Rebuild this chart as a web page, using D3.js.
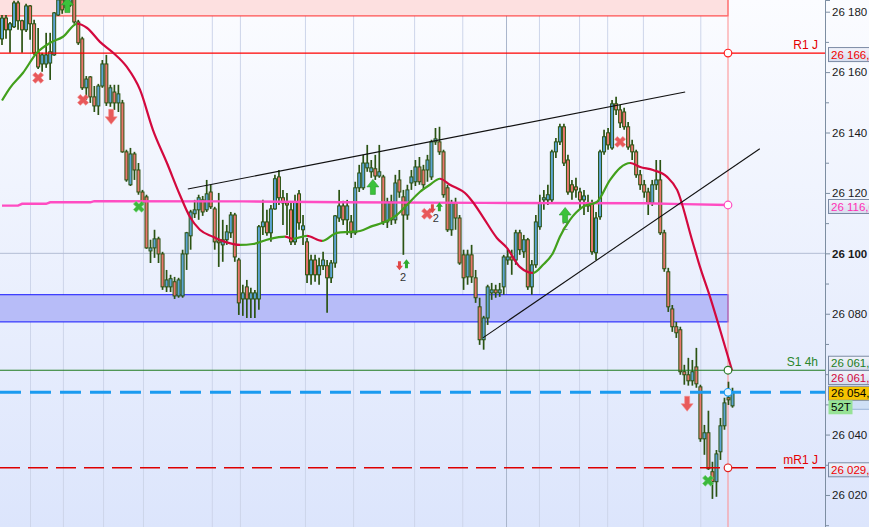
<!DOCTYPE html>
<html>
<head>
<meta charset="utf-8">
<script src="https://cdn.jsdelivr.net/npm/d3@7"></script>
<style>
  body { margin: 0; background: #fff; }
  svg { display: block; font-family: "Liberation Sans", Arial, sans-serif; }
</style>
</head>
<body>
<svg id="chart" width="869" height="527"></svg>
<script>
// candles, one per bar
const open = [
  26171.0, 26177.9, 26174.0, 26175.0, 26182.9, 26177.0, 26174.0, 26181.9, 26176.0, 26166.4,
  26162.7, 26162.7, 26163.0, 26165.7, 26178.9, 26183.9, 26181.3, 26182.2, 26184.6, 26176.6,
  26171.0, 26154.8, 26158.4, 26151.8, 26148.8, 26155.4, 26162.7, 26149.8, 26153.4, 26149.8,
  26149.8, 26133.6, 26122.7, 26132.9, 26127.6, 26120.3, 26118.7, 26100.8, 26101.8, 26104.8,
  26099.8, 26088.9, 26088.9, 26090.6, 26085.9, 26085.9, 26099.8, 26105.8, 26113.1, 26114.4,
  26117.7, 26114.4, 26120.3, 26114.7, 26104.1, 26102.8, 26104.5, 26106.8, 26112.7, 26097.8,
  26084.9, 26088.9, 26084.9, 26084.9, 26084.9, 26108.8, 26110.4, 26106.8, 26114.7, 26125.3,
  26118.4, 26116.7, 26114.4, 26103.8, 26119.7, 26107.8, 26103.8, 26092.9, 26097.8, 26092.9,
  26095.9, 26095.9, 26091.9, 26096.8, 26111.7, 26115.7, 26111.1, 26110.4, 26106.8, 26121.7,
  26121.7, 26128.3, 26127.0, 26128.0, 26125.6, 26125.3, 26110.4, 26117.0, 26111.1, 26124.3,
  26118.7, 26112.7, 26123.3, 26123.7, 26128.6, 26127.6, 26127.6, 26125.3, 26136.9, 26136.9,
  26133.6, 26121.7, 26107.8, 26116.7, 26111.7, 26099.5, 26092.2, 26099.5, 26091.9, 26082.3,
  26071.4, 26078.6, 26086.9, 26087.9, 26086.9, 26088.9, 26097.8, 26098.8, 26097.8, 26106.8,
  26100.5, 26104.5, 26088.9, 26096.2, 26108.8, 26117.7, 26117.7, 26117.7, 26133.6, 26136.9,
  26141.9, 26130.9, 26122.7, 26122.0, 26120.3, 26117.7, 26115.7, 26116.7, 26100.2, 26112.1,
  26133.6, 26139.9, 26134.9, 26149.5, 26147.5, 26146.8, 26141.9, 26135.9, 26133.6, 26126.0,
  26122.7, 26120.3, 26116.7, 26122.7, 26124.3, 26106.8, 26093.9, 26081.6, 26075.7, 26074.7,
  26060.8, 26059.8, 26057.8, 26062.4, 26055.8, 26038.6, 26040.6, 26027.7, 26024.4, 26034.3,
  26042.9, 26052.2, 26049.5
];
const high = [
  26178.9, 26178.9, 26176.6, 26183.6, 26183.6, 26177.3, 26182.6, 26182.2, 26177.3, 26174.6,
  26166.4, 26173.0, 26173.0, 26179.9, 26184.6, 26184.9, 26185.6, 26185.9, 26185.6, 26177.3,
  26171.7, 26158.7, 26158.7, 26155.4, 26156.1, 26164.0, 26165.7, 26155.8, 26155.8, 26155.8,
  26150.8, 26134.3, 26134.9, 26133.6, 26129.9, 26121.0, 26119.4, 26104.5, 26107.8, 26105.5,
  26100.5, 26094.5, 26092.9, 26092.2, 26091.9, 26101.2, 26107.1, 26114.4, 26117.7, 26119.4,
  26119.0, 26124.3, 26122.7, 26115.4, 26120.0, 26111.1, 26109.4, 26113.7, 26113.4, 26098.5,
  26089.6, 26091.2, 26088.6, 26087.9, 26109.4, 26117.7, 26114.4, 26116.0, 26126.0, 26127.6,
  26121.0, 26120.0, 26117.0, 26119.4, 26121.0, 26112.7, 26105.1, 26099.5, 26099.5, 26098.5,
  26100.5, 26097.8, 26097.8, 26112.7, 26121.0, 26117.4, 26117.7, 26112.7, 26123.7, 26129.3,
  26132.6, 26135.9, 26130.9, 26132.6, 26135.9, 26126.0, 26118.4, 26119.4, 26126.0, 26127.6,
  26121.0, 26122.7, 26127.6, 26130.9, 26131.9, 26129.3, 26132.6, 26137.6, 26141.5, 26141.9,
  26134.3, 26122.7, 26117.7, 26118.4, 26112.7, 26101.2, 26101.2, 26102.8, 26094.5, 26085.3,
  26079.3, 26089.6, 26090.2, 26089.6, 26090.2, 26099.5, 26101.2, 26101.2, 26107.8, 26107.8,
  26106.1, 26105.1, 26097.8, 26112.7, 26119.4, 26121.0, 26122.7, 26134.3, 26138.2, 26142.9,
  26142.9, 26132.6, 26124.3, 26125.0, 26121.7, 26121.0, 26119.4, 26117.7, 26113.7, 26134.3,
  26140.9, 26141.5, 26150.8, 26151.8, 26149.1, 26148.2, 26143.5, 26137.6, 26134.3, 26127.6,
  26124.3, 26121.7, 26124.3, 26130.9, 26130.9, 26107.8, 26095.2, 26082.9, 26077.3, 26075.7,
  26063.1, 26065.4, 26064.7, 26068.7, 26056.5, 26043.2, 26047.9, 26031.0, 26034.9, 26045.5,
  26052.2, 26057.5, 26055.5
];
const low = [
  26169.0, 26171.0, 26166.4, 26174.6, 26174.0, 26166.4, 26173.3, 26170.7, 26165.7, 26161.0,
  26160.1, 26161.4, 26157.4, 26165.4, 26178.6, 26179.3, 26180.6, 26181.6, 26176.0, 26169.0,
  26154.1, 26150.8, 26149.8, 26146.8, 26145.8, 26154.8, 26148.8, 26148.5, 26147.5, 26146.8,
  26133.3, 26123.7, 26122.3, 26124.3, 26119.4, 26116.0, 26101.5, 26096.8, 26098.5, 26096.8,
  26087.9, 26087.2, 26087.2, 26084.9, 26085.3, 26085.3, 26094.5, 26101.2, 26111.7, 26111.1,
  26112.4, 26113.7, 26114.7, 26101.2, 26095.5, 26097.2, 26102.8, 26105.1, 26097.2, 26079.6,
  26079.3, 26078.6, 26078.6, 26078.6, 26081.3, 26106.1, 26105.8, 26103.8, 26114.4, 26116.0,
  26109.4, 26106.1, 26102.8, 26102.8, 26107.8, 26102.8, 26090.2, 26089.6, 26090.6, 26089.6,
  26094.5, 26080.3, 26090.2, 26095.2, 26110.4, 26109.4, 26106.1, 26105.1, 26106.1, 26120.3,
  26121.0, 26127.0, 26125.0, 26124.3, 26125.0, 26109.4, 26108.4, 26109.4, 26109.8, 26118.4,
  26099.5, 26111.1, 26121.0, 26122.3, 26122.7, 26121.0, 26123.7, 26124.3, 26135.9, 26132.6,
  26118.4, 26107.1, 26105.8, 26107.8, 26096.2, 26087.9, 26089.6, 26090.2, 26083.6, 26069.7,
  26068.1, 26076.3, 26084.6, 26085.3, 26085.6, 26086.3, 26096.2, 26092.9, 26096.2, 26099.5,
  26098.5, 26087.9, 26086.3, 26095.2, 26107.8, 26114.4, 26116.0, 26116.7, 26131.6, 26135.9,
  26128.9, 26119.4, 26117.7, 26118.4, 26114.4, 26112.7, 26113.7, 26099.5, 26097.8, 26111.1,
  26132.6, 26134.3, 26134.3, 26145.8, 26141.5, 26140.9, 26134.3, 26130.9, 26125.0, 26121.0,
  26118.4, 26112.7, 26115.7, 26121.0, 26106.1, 26093.9, 26080.6, 26074.0, 26072.0, 26059.8,
  26056.5, 26056.2, 26056.2, 26055.5, 26037.6, 26033.3, 26028.3, 26018.7, 26019.4, 26031.6,
  26041.6, 26049.8, 26048.9
];
const close = [
  26177.9, 26174.0, 26176.0, 26182.9, 26177.0, 26174.0, 26181.9, 26176.0, 26166.4, 26161.7,
  26165.7, 26165.7, 26166.7, 26179.6, 26183.9, 26180.6, 26184.9, 26185.2, 26176.6, 26169.7,
  26154.8, 26157.7, 26151.8, 26148.8, 26155.4, 26162.7, 26149.8, 26154.8, 26149.8, 26152.8,
  26133.6, 26124.3, 26132.9, 26127.6, 26120.3, 26117.0, 26101.8, 26101.8, 26104.8, 26099.8,
  26088.9, 26091.2, 26091.6, 26085.9, 26091.2, 26099.8, 26106.8, 26113.7, 26114.4, 26118.4,
  26113.7, 26119.7, 26115.4, 26103.8, 26103.5, 26104.5, 26107.1, 26112.7, 26098.8, 26083.6,
  26086.9, 26084.9, 26086.9, 26086.9, 26108.8, 26110.4, 26106.8, 26114.7, 26124.7, 26118.4,
  26116.7, 26116.0, 26103.8, 26117.0, 26110.1, 26109.1, 26092.9, 26097.8, 26092.9, 26095.9,
  26097.8, 26091.9, 26096.8, 26112.4, 26115.7, 26111.1, 26115.7, 26106.8, 26121.7, 26126.6,
  26129.9, 26129.9, 26128.3, 26125.6, 26127.0, 26110.4, 26117.0, 26111.1, 26123.3, 26120.3,
  26112.7, 26121.0, 26125.3, 26128.6, 26123.7, 26122.7, 26130.9, 26136.9, 26137.9, 26133.6,
  26119.4, 26107.8, 26116.7, 26111.7, 26096.8, 26091.9, 26099.5, 26092.2, 26085.3, 26071.4,
  26078.6, 26088.9, 26087.9, 26086.9, 26087.9, 26098.8, 26098.8, 26097.8, 26106.8, 26101.2,
  26104.5, 26088.9, 26096.2, 26110.4, 26116.7, 26118.4, 26119.4, 26133.6, 26136.9, 26141.9,
  26129.9, 26120.3, 26120.3, 26121.0, 26117.7, 26119.0, 26116.7, 26100.5, 26111.7, 26133.6,
  26138.6, 26135.9, 26149.5, 26147.5, 26143.2, 26141.9, 26135.2, 26133.6, 26126.0, 26122.7,
  26120.3, 26116.7, 26122.7, 26124.3, 26106.8, 26094.9, 26082.3, 26075.7, 26073.7, 26060.8,
  26059.8, 26057.8, 26060.8, 26056.8, 26038.6, 26040.6, 26028.7, 26024.4, 26033.6, 26042.9,
  26050.5, 26051.5, 26054.0
];

// moving average (bar index, value)
const maIdx = [0, 2, 5.2, 8.7, 12, 15.2, 18.7, 21.2, 24.4, 27.7, 31.1, 34.4, 37.6, 41.1, 44.3, 46.8,
  49.3, 52.6, 55.6, 59.3, 62.5, 66.8, 70.5, 72.5, 76, 79.7, 83.5, 86.7, 89.2, 92.4, 94.9, 98.4,
  100.9, 104.1, 106.6, 109.1, 111.6, 115.8, 117.3, 119.8, 123.3, 125.8, 129, 132.3, 134.8, 137.3,
  139, 141.5, 144.7, 148.2, 151.5, 154, 156.5, 159, 162.2, 165.7, 168.2, 171.9, 173.9, 176.4,
  178.9, 181.9];
const maVal = [26150.6, 26154.8, 26159.7, 26166.4, 26169.7, 26171.7, 26176.0, 26174.6, 26170.0,
  26166.4, 26161.7, 26154.1, 26140.9, 26129.9, 26119.4, 26112.1, 26107.8, 26105.5, 26103.8,
  26102.8, 26103.1, 26104.8, 26105.5, 26104.8, 26105.8, 26104.1, 26106.8, 26107.1, 26107.4,
  26109.1, 26110.1, 26112.7, 26116.0, 26120.3, 26122.7, 26124.7, 26122.7, 26119.4, 26117.0,
  26112.1, 26105.1, 26101.8, 26095.5, 26093.5, 26096.2, 26100.2, 26105.5, 26111.1, 26115.4,
  26117.0, 26124.3, 26128.3, 26129.9, 26128.6, 26127.6, 26125.3, 26121.0, 26104.5, 26095.5,
  26085.6, 26074.7, 26061.2];

// long average (magenta)
const magIdx = [0, 4, 5, 11, 12, 22, 23, 60, 85, 120, 160, 170, 180.9];
const magVal = [26115.8, 26115.8, 26116.4, 26116.4, 26116.9, 26116.9, 26117.3, 26117.2, 26116.9,
  26116.7, 26116.6, 26116.3, 26116.0];

// levels and zones
const topZone = [26178.6, 26195];
const blueZone = [26077.3, 26086.3];
const levelR1 = 26166.3, levelS1 = 26061.3, levelMR1 = 26029.0, lastPrice = 26054.0;

// trend lines: [start idx, start value, end idx, end value]
const trendLines = [
  [46.3, 26121.3, 170.2, 26153.4],
  [119.8, 26072.0, 188.8, 26134.6]
];

// signal markers (bar index, price)
const crossRed = [[9.0, 26158.1], [20.2, 26150.8], [105.9, 26113.1], [154.0, 26136.9]];
const crossGreen = [[34.1, 26115.4], [175.9, 26024.7]];
const arrowUp = [[16.3, 26182.2], [92.4, 26122.0], [140.3, 26112.7]];
const arrowDown = [[27.2, 26145.2], [170.7, 26050.2]];
const smallPairs = [[99.9, 26096.2], [108.1, 26115.1]];
const countLabels = [[99.9, 26092.2, "2"], [108.1, 26111.7, "2"], [140.3, 26109.1, "2"]];

// time grid (bar index positions) and price ticks
const gridIdx = [7.1, 15.3, 25.3, 35.25, 52.4, 59.4, 75.6, 87.6, 102.8, 114.8, 133.9, 143.9, 150.9, 159.8, 174.1];
const dayIdx = [125.7];
const yTicks = [26020, 26040, 26060, 26080, 26100, 26120, 26140, 26160, 26180];
const yMinor = [26010, 26030, 26050, 26070, 26090, 26110, 26130, 26150, 26170];

const W = 869, H = 527, plotRight = 825, nowX = 728;
const fontSize = 11.5;

const svg = d3.select("#chart");
const defs = svg.append("defs");

const x = d3.scaleLinear().domain([0, open.length - 1]).range([2, 732.5]);
const y = d3.scaleLinear().domain([26009.4, 26183.87]).range([H, 0]);

const loc = d3.formatLocale({ decimal: ",", thousands: " ", grouping: [3], currency: ["", ""] });
const fmtTick = loc.format(",");
const fmtVal = loc.format(",.1f");

// background
const bg = defs.append("linearGradient").attr("id", "bg").attr("x1", 0).attr("x2", 0).attr("y1", 0).attr("y2", 1);
bg.append("stop").attr("offset", 0).attr("stop-color", "#fbfcff");
bg.append("stop").attr("offset", 1).attr("stop-color", "#dce5fc");
svg.append("rect").attr("width", W).attr("height", H).attr("fill", "url(#bg)");

defs.append("clipPath").attr("id", "clip").append("rect").attr("width", plotRight).attr("height", H);
const plot = svg.append("g").attr("clip-path", "url(#clip)");

// grid
plot.selectAll("line.vgrid").data(gridIdx).join("line")
  .attr("x1", d => x(d)).attr("x2", d => x(d)).attr("y1", 0).attr("y2", H)
  .attr("stroke", "#cdd5ea").attr("stroke-width", 1);
plot.selectAll("line.dgrid").data(dayIdx).join("line")
  .attr("x1", d => x(d)).attr("x2", d => x(d)).attr("y1", 0).attr("y2", H)
  .attr("stroke", "#a9b5cc").attr("stroke-width", 1);
plot.append("line").attr("x1", 0).attr("x2", plotRight).attr("y1", y(26100)).attr("y2", y(26100))
  .attr("stroke", "#b4bdd4").attr("stroke-width", 1);

// zones
plot.append("rect").attr("x", -1).attr("width", nowX + 1)
  .attr("y", y(topZone[1])).attr("height", y(topZone[0]) - y(topZone[1]))
  .attr("fill", "#fde0e0").attr("stroke", "#ff2a2a").attr("stroke-width", 1);
plot.append("rect").attr("x", -1).attr("width", nowX + 1)
  .attr("y", y(blueZone[1])).attr("height", y(blueZone[0]) - y(blueZone[1]))
  .attr("fill", "#b7bcf8").attr("stroke", "#1414ff").attr("stroke-width", 1);

// "now" vertical
plot.append("line").attr("x1", nowX).attr("x2", nowX).attr("y1", 0).attr("y2", H)
  .attr("stroke", "#ff8d8d").attr("stroke-width", 1);

// count label partly hidden behind candles
const countG = plot.append("g");

// candles
const candles = open.map((o, i) => ({ i, o, h: high[i], l: low[i], c: close[i] }));
plot.selectAll("line.wick").data(candles).join("line")
  .attr("x1", d => x(d.i)).attr("x2", d => x(d.i))
  .attr("y1", d => y(d.h)).attr("y2", d => y(d.l))
  .attr("stroke", "#2b5313").attr("stroke-width", 1.7);
plot.selectAll("rect.body").data(candles).join("rect")
  .attr("x", d => x(d.i) - 1.5).attr("width", 3)
  .attr("y", d => y(Math.max(d.o, d.c)))
  .attr("height", d => Math.max(1, Math.abs(y(d.o) - y(d.c))))
  .attr("fill", d => d.c >= d.o ? "#5ba4d4" : "#e9766c")
  .attr("stroke", "#2b5313").attr("stroke-width", 1);

// horizontal levels
const hline = (v, col, w, dash) => plot.append("line")
  .attr("x1", 0).attr("x2", plotRight).attr("y1", y(v)).attr("y2", y(v))
  .attr("stroke", col).attr("stroke-width", w).attr("stroke-dasharray", dash || null);
hline(levelR1, "#ff0000", 1.2);
hline(levelS1, "#1e7a1e", 1.2);
hline(levelMR1, "#dd0000", 1.4, "20 8");
hline(lastPrice, "#1b9bf0", 3, "21 9");

// magenta line
plot.append("path")
  .datum(magIdx.map((d, k) => [x(d), y(magVal[k])]))
  .attr("d", d3.line())
  .attr("fill", "none").attr("stroke", "#ff4cc2").attr("stroke-width", 2.4);

// moving average, green when rising, red when falling
const maPts = maIdx.map((d, k) => [x(d), y(maVal[k])]);
const maGrad = defs.append("linearGradient").attr("id", "maGrad")
  .attr("gradientUnits", "userSpaceOnUse").attr("x1", 0).attr("x2", W).attr("y1", 0).attr("y2", 0);
for (let k = 0; k < maPts.length - 1; k++) {
  const col = maVal[k + 1] > maVal[k] ? "#42a01c" : "#d3093e";
  maGrad.append("stop").attr("offset", maPts[k][0] / W).attr("stop-color", col);
  maGrad.append("stop").attr("offset", maPts[k + 1][0] / W).attr("stop-color", col);
}
plot.append("path").datum(maPts)
  .attr("d", d3.line().curve(d3.curveMonotoneX))
  .attr("fill", "none").attr("stroke", "url(#maGrad)").attr("stroke-width", 2.2);

// trend lines
plot.selectAll("line.trend").data(trendLines).join("line")
  .attr("x1", d => x(d[0])).attr("y1", d => y(d[1]))
  .attr("x2", d => x(d[2])).attr("y2", d => y(d[3]))
  .attr("stroke", "#111").attr("stroke-width", 1.1);

// markers
function arrowPath(cx, cy, h, hw, sw, dir) {
  const t = cy - dir * h / 2, m = cy, b = cy + dir * h / 2;
  return `M${cx},${t}L${cx + hw / 2},${m}L${cx + sw / 2},${m}L${cx + sw / 2},${b}` +
    `L${cx - sw / 2},${b}L${cx - sw / 2},${m}L${cx - hw / 2},${m}Z`;
}
const crossSym = d3.symbol(d3.symbolCross, 75);
plot.selectAll("path.xr").data(crossRed).join("path")
  .attr("d", crossSym).attr("transform", d => `translate(${x(d[0])},${y(d[1])}) rotate(45)`)
  .attr("fill", "#e8585a").attr("stroke", "#f08a8a").attr("stroke-width", 0.6);
plot.selectAll("path.xg").data(crossGreen).join("path")
  .attr("d", crossSym).attr("transform", d => `translate(${x(d[0])},${y(d[1])}) rotate(45)`)
  .attr("fill", "#3cb83c").attr("stroke", "#7ad67a").attr("stroke-width", 0.6);
plot.selectAll("path.au").data(arrowUp).join("path")
  .attr("d", d => arrowPath(x(d[0]), y(d[1]), 15, 12, 5, 1))
  .attr("fill", "#3cc23c").attr("stroke", "#2a9a2a").attr("stroke-width", 0.6);
plot.selectAll("path.ad").data(arrowDown).join("path")
  .attr("d", d => arrowPath(x(d[0]), y(d[1]), 15, 12, 5, -1))
  .attr("fill", "#e85a5a").attr("stroke", "#f59090").attr("stroke-width", 0.6);
plot.selectAll("path.sd").data(smallPairs).join("path")
  .attr("d", d => arrowPath(x(d[0]) - 3.5, y(d[1]) + 1, 9, 7, 3, -1))
  .attr("fill", "#e04848");
plot.selectAll("path.su").data(smallPairs).join("path")
  .attr("d", d => arrowPath(x(d[0]) + 3.5, y(d[1]) - 1, 9, 7, 3, 1))
  .attr("fill", "#2eaa2e");
countG.selectAll("text").data(countLabels.slice(2)).join("text")
  .attr("x", d => x(d[0])).attr("y", d => y(d[1]) + 4)
  .attr("text-anchor", "middle").attr("font-size", 11)
  .attr("fill", "#777").text(d => d[2]);
plot.selectAll("text.cnt").data(countLabels.slice(0, 2)).join("text")
  .attr("x", d => x(d[0])).attr("y", d => y(d[1]) + 4)
  .attr("text-anchor", "middle").attr("font-size", 11).attr("fill", "#333").text(d => d[2]);

// circles on the "now" line
const circ = (v, col, fill) => plot.append("circle")
  .attr("cx", nowX).attr("cy", y(v)).attr("r", 3.8)
  .attr("fill", fill || "#fff").attr("stroke", col).attr("stroke-width", 1.2);
circ(levelR1, "#ff2020");
circ(magVal[magVal.length - 1], "#ff4cc2");
circ(levelS1, "#2a7a2a");
circ(lastPrice, "#1b9bf0", "#e6f3ff");
circ(levelMR1, "#e02020");

// level names
const lname = (txt, v, col, dy) => plot.append("text")
  .attr("x", 818).attr("y", y(v) + dy).attr("text-anchor", "end")
  .attr("font-size", 12).attr("fill", col).text(txt);
lname("R1 J", levelR1, "#e40000", -4);
lname("S1 4h", levelS1, "#2b862b", -4);
lname("mR1 J", levelMR1, "#e40000", -4);

// price axis
svg.append("g").attr("transform", `translate(${plotRight},0)`)
  .call(d3.axisRight(y).tickValues(yMinor).tickSize(4).tickFormat(""));
const major = svg.append("g").attr("transform", `translate(${plotRight},0)`)
  .call(d3.axisRight(y).tickValues(yTicks).tickSize(5).tickPadding(2).tickFormat(fmtTick));
svg.selectAll(".domain").attr("stroke", "#7d8ea2");
svg.selectAll(".tick line").attr("stroke", "#7d8ea2");
major.selectAll("text").attr("font-size", fontSize).attr("fill", "#1a1a1a")
  .attr("font-family", '"Liberation Sans", Arial, sans-serif')
  .attr("font-weight", d => d === 26100 ? "bold" : null);

// value tags at the right
const tagGrad = defs.append("linearGradient").attr("id", "tag").attr("x1", 0).attr("x2", 0).attr("y1", 0).attr("y2", 1);
tagGrad.append("stop").attr("offset", 0).attr("stop-color", "#f2f4fb");
tagGrad.append("stop").attr("offset", 1).attr("stop-color", "#d6dcee");
function tag(v, col, dy, fill, text) {
  const cy = y(v) + dy;
  svg.append("rect").attr("x", 828.5).attr("y", cy - 7).attr("width", 50).attr("height", 14)
    .attr("fill", fill || "url(#tag)").attr("stroke", "#7b8aa4").attr("stroke-width", 1);
  svg.append("text").attr("x", 831).attr("y", cy + 4.2).attr("font-size", fontSize)
    .attr("fill", col).text(text || fmtVal(v));
}
tag(levelR1, "#f00000", 1.5);
tag(magVal[magVal.length - 1], "#ff2fb4", 1.5);
tag(levelS1, "#1e7e1e", -7);
tag(maVal[maVal.length - 1], "#d3093e", 7);
svg.append("rect").attr("x", 848).attr("y", y(lastPrice) + 5).attr("width", 30).attr("height", 12)
  .attr("fill", "#cfe0f6").attr("stroke", "#9ab4d8");
tag(lastPrice, "#000", 1, "#f6c400");
svg.append("rect").attr("x", 828.5).attr("y", y(lastPrice) + 8).attr("width", 24).attr("height", 14)
  .attr("fill", "#96e296");
svg.append("text").attr("x", 831).attr("y", y(lastPrice) + 19.2).attr("font-size", fontSize)
  .attr("fill", "#000").text("52T");
tag(levelMR1, "#f00000", 2);
</script>
</body>
</html>
